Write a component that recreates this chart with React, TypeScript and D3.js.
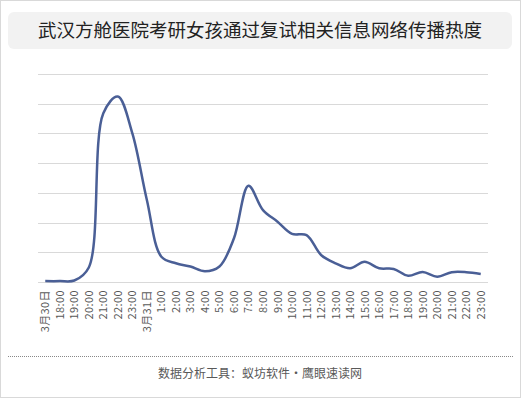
import React, { useEffect, useRef } from 'react';
import * as d3 from 'd3';

const title = '武汉方舱医院考研女孩通过复试相关信息网络传播热度';
const footer = '数据分析工具：蚁坊软件・鹰眼速读网';

const timeLabels = [
    '3月30日', '18:00', '19:00', '20:00', '21:00', '22:00', '23:00',
    '3月31日', '1:00', '2:00', '3:00', '4:00', '5:00', '6:00', '7:00', '8:00',
    '9:00', '10:00', '11:00', '12:00', '13:00', '14:00', '15:00', '16:00',
    '17:00', '18:00', '19:00', '20:00', '21:00', '22:00', '23:00',
];

// heat values (one gridline = 1 unit)
const heat = [
    0.03, 0.03, 0.05, 0.49, 5.68, 6.24, 5.0, 2.76, 0.85, 0.63, 0.52, 0.36,
    0.52, 1.47, 3.24, 2.42, 2.03, 1.62, 1.58, 0.91, 0.63, 0.46, 0.68, 0.46,
    0.44, 0.21, 0.34, 0.18, 0.33, 0.33, 0.27,
];

const gridTicks = [0, 1, 2, 3, 4, 5, 6, 7];

const W = 521;
const H = 398;

export default function App() {
    const svgRef = useRef<SVGSVGElement>(null);

    useEffect(() => {
        const svg = d3.select(svgRef.current);
        svg.selectAll('*').remove();

        const left = 38;
        const right = 488;
        const top = 74;
        const bottom = 282;

        const x = d3
            .scaleBand<number>()
            .domain(d3.range(heat.length))
            .range([left, right]);
        const y = d3.scaleLinear().domain([0, 7]).range([bottom, top]);

        // outer frame
        svg.append('rect')
            .attr('x', 0.5)
            .attr('y', 0.5)
            .attr('width', W - 1)
            .attr('height', H - 1)
            .attr('fill', '#fff')
            .attr('stroke', '#d9d9d9');

        // title box
        svg.append('rect')
            .attr('x', 8)
            .attr('y', 12)
            .attr('width', 504)
            .attr('height', 37)
            .attr('rx', 6)
            .attr('fill', '#f2f2f2');
        svg.append('text')
            .attr('x', 260)
            .attr('y', 37)
            .attr('text-anchor', 'middle')
            .attr('font-size', 18.5)
            .attr('fill', '#222')
            .text(title);

        // gridlines
        svg.append('g')
            .selectAll('line')
            .data(gridTicks)
            .enter()
            .append('line')
            .attr('x1', left)
            .attr('x2', right)
            .attr('y1', (d) => Math.round(y(d)) + 0.5)
            .attr('y2', (d) => Math.round(y(d)) + 0.5)
            .attr('stroke', '#d9d9d9');

        // x labels
        svg.append('g')
            .selectAll('text')
            .data(timeLabels)
            .enter()
            .append('text')
            .attr('transform', (d, i) => `translate(${x(i)! + x.bandwidth() / 2 + 4},${bottom + 8}) rotate(-90)`)
            .attr('text-anchor', 'end')
            .attr('font-size', 11)
            .attr('letter-spacing', 0.4)
            .attr('fill', '#595959')
            .text((d) => d);

        // line
        const line = d3
            .line<number>()
            .x((d, i) => x(i)! + x.bandwidth() / 2)
            .y((d) => y(d))
            .curve(d3.curveCatmullRom.alpha(0.5));

        svg.append('path')
            .datum(heat)
            .attr('fill', 'none')
            .attr('stroke', '#4a5f96')
            .attr('stroke-width', 2.5)
            .attr('stroke-linejoin', 'round')
            .attr('d', line);

        // footer
        svg.append('line')
            .attr('x1', 8)
            .attr('x2', 513)
            .attr('y1', 356.5)
            .attr('y2', 356.5)
            .attr('stroke', '#888')
            .attr('stroke-dasharray', '1,1');
        svg.append('text')
            .attr('x', 260)
            .attr('y', 378)
            .attr('text-anchor', 'middle')
            .attr('font-size', 12)
            .attr('fill', '#595959')
            .text(footer);
    }, []);

    return (
        <svg
            ref={svgRef}
            width={W}
            height={H}
            style={{
                position: 'absolute',
                left: 0,
                top: 0,
                fontFamily: '"Noto Sans CJK SC", "Noto Sans", sans-serif',
            }}
        />
    );
}
